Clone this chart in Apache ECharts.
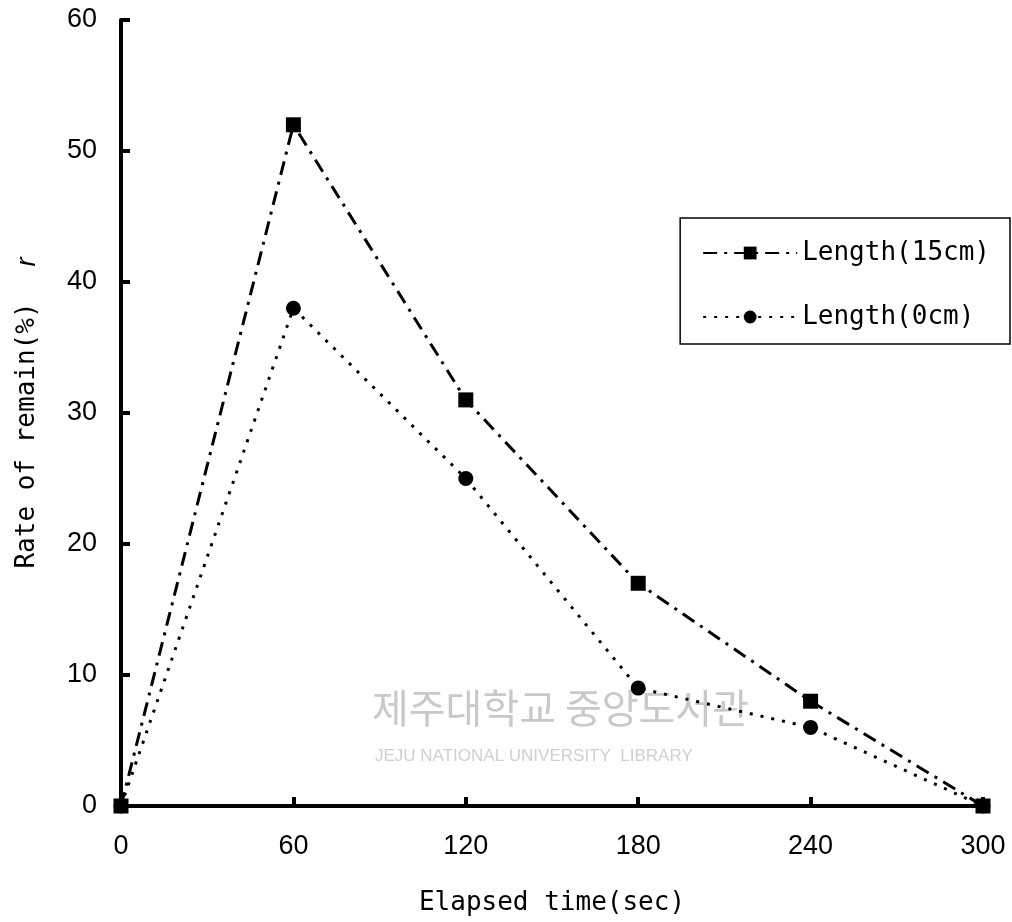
<!DOCTYPE html>
<html><head><meta charset="utf-8">
<script src="https://cdn.jsdelivr.net/npm/echarts@6/dist/echarts.min.js"></script>
<style>html,body{margin:0;padding:0;background:#fff}#c{width:1012px;height:922px}</style>
</head><body><div id="c"></div>
<script>
const times = [0, 60, 120, 180, 240, 300];
const len15 = [0, 52, 31, 17, 8, 0];
const len0 = [0, 38, 25, 9, 6, 0];
const seriesNames = ['Length(15cm)', 'Length(0cm)'];
const xTicks = [0, 60, 120, 180, 240, 300];
const yTicks = [0, 10, 20, 30, 40, 50, 60];

const chart = echarts.init(document.getElementById('c'));
const labelFont = 'Liberation Sans';
const monoFont = 'DejaVu Sans Mono';
chart.setOption({
  animation: false,
  backgroundColor: '#fff',
  grid: {left: 121, right: 29, top: 20, bottom: 116, outerBoundsMode: 'none', containLabel: false},
  xAxis: {
    type: 'value', min: xTicks[0], max: xTicks[xTicks.length-1], interval: 60,
    axisLine: {lineStyle: {color: '#000', width: 4}},
    axisTick: {inside: true, length: 9, lineStyle: {color: '#000', width: 4}},
    splitLine: {show: false},
    axisLabel: {color: '#000', fontFamily: labelFont, fontSize: 27, margin: 27},
    name: 'Elapsed time(sec)', nameLocation: 'middle', nameGap: 84,
    nameTextStyle: {color: '#000', fontFamily: monoFont, fontSize: 26}
  },
  yAxis: {
    type: 'value', min: yTicks[0], max: yTicks[yTicks.length-1], interval: 10,
    axisLine: {lineStyle: {color: '#000', width: 4}},
    axisTick: {inside: true, length: 9, lineStyle: {color: '#000', width: 4}},
    splitLine: {show: false},
    axisLabel: {color: '#000', fontFamily: labelFont, fontSize: 27, margin: 24},
    name: '{a|Rate of remain(%)}{s|}{b|r}', nameLocation: 'middle', nameGap: 80,
    nameTextStyle: {
      color: '#000',
      rich: {
        a: {fontFamily: monoFont, fontSize: 26, color: '#000'},
        s: {width: 36},
        b: {fontFamily: 'Liberation Sans', fontStyle: 'italic', fontSize: 27, color: '#000'}
      }
    }
  },
  legend: {
    data: seriesNames,
    orient: 'vertical',
    right: 2, top: 218,
    padding: [22, 20, 14, 22],
    itemGap: 38,
    itemWidth: 94, itemHeight: 16,
    borderColor: '#000', borderWidth: 1.5,
    backgroundColor: '#fff',
    textStyle: {color: '#000', fontFamily: monoFont, fontSize: 26}
  },
  graphic: [
    {type: 'text', left: 372, top: 688, z: 0, style: {text: '제주대학교 중앙도서관', fill: '#c9c9c9', font: '40px "Noto Sans CJK KR"'}},
    {type: 'text', left: 375, top: 748, z: 0, style: {text: 'JEJU NATIONAL UNIVERSITY  LIBRARY', fill: '#d0d0d0', font: '17px "Liberation Sans"'}}
  ],
  series: [
    {
      name: seriesNames[1], type: 'line', data: times.map((t, i) => [t, len0[i]]),
      symbol: 'circle', symbolSize: 15,
      itemStyle: {color: '#000'},
      lineStyle: {color: '#000', width: 3, type: [3, 8]},
      z: 3
    },
    {
      name: seriesNames[0], type: 'line', data: times.map((t, i) => [t, len15[i]]),
      symbol: 'rect', symbolSize: 15,
      itemStyle: {color: '#000'},
      lineStyle: {color: '#000', width: 3, type: [14, 7, 3, 7]},
      z: 4
    }
  ]
});
</script></body></html>
